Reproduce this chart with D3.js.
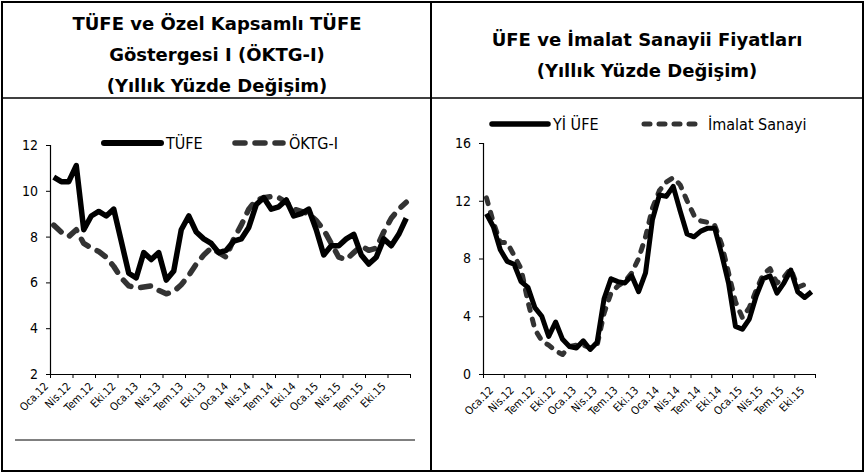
<!DOCTYPE html>
<html>
<head>
<meta charset="utf-8">
<script src="https://cdn.jsdelivr.net/npm/d3@7/dist/d3.min.js"></script>
<style>
  body { margin: 0; background: #fff; }
  svg text { font-family: "DejaVu Sans Condensed", "DejaVu Sans", sans-serif; fill: #000; }
  .title { font-family: "DejaVu Sans", sans-serif; font-weight: bold; font-size: 18px; }
</style>
</head>
<body>
<div id="chart"></div>
<script>
// aylar: Oca.12 - Ara.15 (48 ay), etiketler her 3 ayda bir
const tickLabels = ["Oca.12", "Nis.12", "Tem.12", "Eki.12", "Oca.13", "Nis.13", "Tem.13", "Eki.13",
                    "Oca.14", "Nis.14", "Tem.14", "Eki.14", "Oca.15", "Nis.15", "Tem.15", "Eki.15"];

// sol grafik
const tufe = [10.6, 10.4, 10.4, 11.1, 8.3, 8.9, 9.1, 8.9, 9.2, 7.8, 6.4, 6.2,
              7.3, 7.0, 7.3, 6.1, 6.5, 8.3, 8.9, 8.2, 7.9, 7.7, 7.3, 7.4,
              7.8, 7.9, 8.4, 9.4, 9.7, 9.2, 9.3, 9.6, 8.9, 9.0, 9.2, 8.3,
              7.2, 7.6, 7.6, 7.9, 8.1, 7.2, 6.8, 7.1, 7.9, 7.6, 8.1, 8.8];
const oktg = [8.5, 8.2, 8.0, 8.3, 7.7, 7.5, 7.35, 7.1, 6.7, 6.2, 5.85, 5.75,
              5.8, 5.85, 5.65, 5.5, 5.6, 5.9, 6.3, 6.8, 7.2, 7.5, 7.3, 7.1,
              7.9, 8.5, 9.2, 9.6, 9.7, 9.75, 9.7, 9.5, 9.2, 9.1, 9.0, 8.7,
              8.3, 7.7, 7.1, 7.0, 7.3, 7.6, 7.4, 7.5, 8.2, 8.8, 9.2, 9.5];
const leftTicks = [2, 4, 6, 8, 10, 12];

// sağ grafik
const ufe = [11.1, 10.2, 8.6, 7.8, 7.6, 6.4, 6.0, 4.6, 4.0, 2.6, 3.6, 2.4,
             1.9, 1.8, 2.3, 1.7, 2.2, 5.2, 6.6, 6.4, 6.3, 6.8, 5.7, 7.0,
             10.7, 12.4, 12.3, 13.0, 11.3, 9.7, 9.5, 9.9, 10.1, 10.1, 8.3, 6.3,
             3.3, 3.1, 3.8, 5.4, 6.6, 6.8, 5.6, 6.3, 7.2, 5.7, 5.3, 5.7];
const imalat = [12.2, 10.5, 9.1, 9.1, 8.2, 7.3, 5.0, 3.1, 2.3, 2.0, 1.6, 1.35,
                1.9, 2.0, 2.0, 1.8, 2.0, 4.2, 5.6, 6.1, 6.4, 7.0, 8.0, 9.5,
                11.5, 12.7, 13.3, 13.6, 13.1, 12.0, 11.0, 10.6, 10.5, 10.3, 9.0, 7.0,
                5.0, 3.9, 4.6, 5.8, 6.9, 7.3, 6.3, 6.7, 7.3, 6.0, 6.2, 6.4];
const rightTicks = [0, 4, 8, 12, 16];

const width = 865, height = 473;
const svg = d3.select("#chart").append("svg")
    .attr("width", width)
    .attr("height", height);

// çerçeve
svg.append("rect")
    .attr("x", 2).attr("y", 2).attr("width", 861).attr("height", 469)
    .attr("fill", "none").attr("stroke", "#000").attr("stroke-width", 2);
svg.append("line").attr("x1", 431).attr("x2", 431).attr("y1", 2).attr("y2", 471)
    .attr("stroke", "#000").attr("stroke-width", 2);
svg.append("line").attr("x1", 2).attr("x2", 863).attr("y1", 98).attr("y2", 98)
    .attr("stroke", "#000").attr("stroke-width", 1.5);

// başlıklar
function title(cx, lines, y0) {
    lines.forEach((t, i) => {
        svg.append("text").attr("class", "title")
            .attr("x", cx).attr("y", y0 + i * 31)
            .attr("text-anchor", "middle")
            .text(t);
    });
}
title(217, ["TÜFE ve Özel Kapsamlı TÜFE", "Göstergesi I (ÖKTG-I)", "(Yıllık Yüzde Değişim)"], 30);
title(647, ["ÜFE ve İmalat Sanayii Fiyatları", "(Yıllık Yüzde Değişim)"], 46);

// sol alt çizgi
svg.append("line").attr("x1", 15).attr("x2", 415).attr("y1", 440).attr("y2", 440)
    .attr("stroke", "#000").attr("stroke-width", 1);

function drawPanel(p) {
    const x = d3.scaleLinear().domain([0, 48]).range([p.x0, p.x1]);
    const y = d3.scaleLinear().domain(p.yDomain).range([p.yBottom, p.yTop]);

    const g = svg.append("g");

    // y ekseni
    const yAxis = g.append("g")
        .attr("transform", "translate(" + p.x0 + ",0)")
        .call(d3.axisLeft(y).tickValues(p.ticks).tickSize(4).tickPadding(8));
    yAxis.select(".domain").attr("stroke", "#000").attr("stroke-width", 1.2);
    yAxis.selectAll("text").style("font-size", "14px").attr("fill", "#000");

    // x ekseni
    const xAxis = g.append("g")
        .attr("transform", "translate(0," + p.yBottom + ")")
        .call(d3.axisBottom(x).tickValues(d3.range(0, 49, 3)).tickFormat("").tickSize(4).tickSizeOuter(0));
    xAxis.select(".domain").attr("stroke", "#000").attr("stroke-width", 1.2);

    g.selectAll(".xlab")
        .data(tickLabels)
        .enter()
        .append("text")
        .attr("class", "xlab")
        .attr("text-anchor", "end")
        .style("font-size", "11px")
        .attr("transform", (d, i) => "translate(" + (x(i * 3) + p.labDx) + "," + (p.yBottom + p.labDy) + ") rotate(-45)")
        .text(d => d);

    const line = d3.line()
        .x((d, i) => x(i + 0.5))
        .y(d => y(d));

    g.append("path")
        .attr("fill", "none")
        .attr("stroke", "#333")
        .attr("stroke-width", p.lw)
        .attr("stroke-linecap", "round")
        .attr("stroke-linejoin", "round")
        .attr("stroke-dasharray", p.dash)
        .attr("d", line(p.s2));

    g.append("path")
        .attr("fill", "none")
        .attr("stroke", "#000")
        .attr("stroke-width", p.lw)
        .attr("stroke-linejoin", "round")
        .attr("d", line(p.s1));

    // lejant
    const lg = g.append("g");
    lg.append("line")
        .attr("x1", p.leg[0]).attr("x2", p.leg[1]).attr("y1", p.legY).attr("y2", p.legY)
        .attr("stroke", "#000").attr("stroke-width", p.lw + 0.5)
        .attr("stroke-linecap", "round");
    lg.append("text")
        .attr("x", p.leg[1] + 5).attr("y", p.legY + 6)
        .style("font-size", "16px")
        .text(p.names[0]);
    lg.append("line")
        .attr("x1", p.leg[2]).attr("x2", p.leg[3]).attr("y1", p.legY).attr("y2", p.legY)
        .attr("stroke", "#333").attr("stroke-width", p.lw)
        .attr("stroke-linecap", "round")
        .attr("stroke-dasharray", p.dash);
    lg.append("text")
        .attr("x", p.leg[3] + 6).attr("y", p.legY + 6)
        .style("font-size", "16px")
        .text(p.names[1]);
}

drawPanel({
    x0: 50, x1: 410, yTop: 145, yBottom: 374, yDomain: [2, 12], ticks: leftTicks,
    s1: tufe, s2: oktg, names: ["TÜFE", "ÖKTG-I"],
    lw: 5.5, dash: "10 10", labDx: -1, labDy: 13,
    leg: [104, 161, 235, 283], legY: 143
});

drawPanel({
    x0: 483, x1: 815, yTop: 143, yBottom: 374, yDomain: [0, 16], ticks: rightTicks,
    s1: ufe, s2: imalat, names: ["Yİ ÜFE", "İmalat Sanayi"],
    lw: 5, dash: "6 9", labDx: 11, labDy: 17,
    leg: [492, 548, 644, 702], legY: 124
});
</script>
</body>
</html>
